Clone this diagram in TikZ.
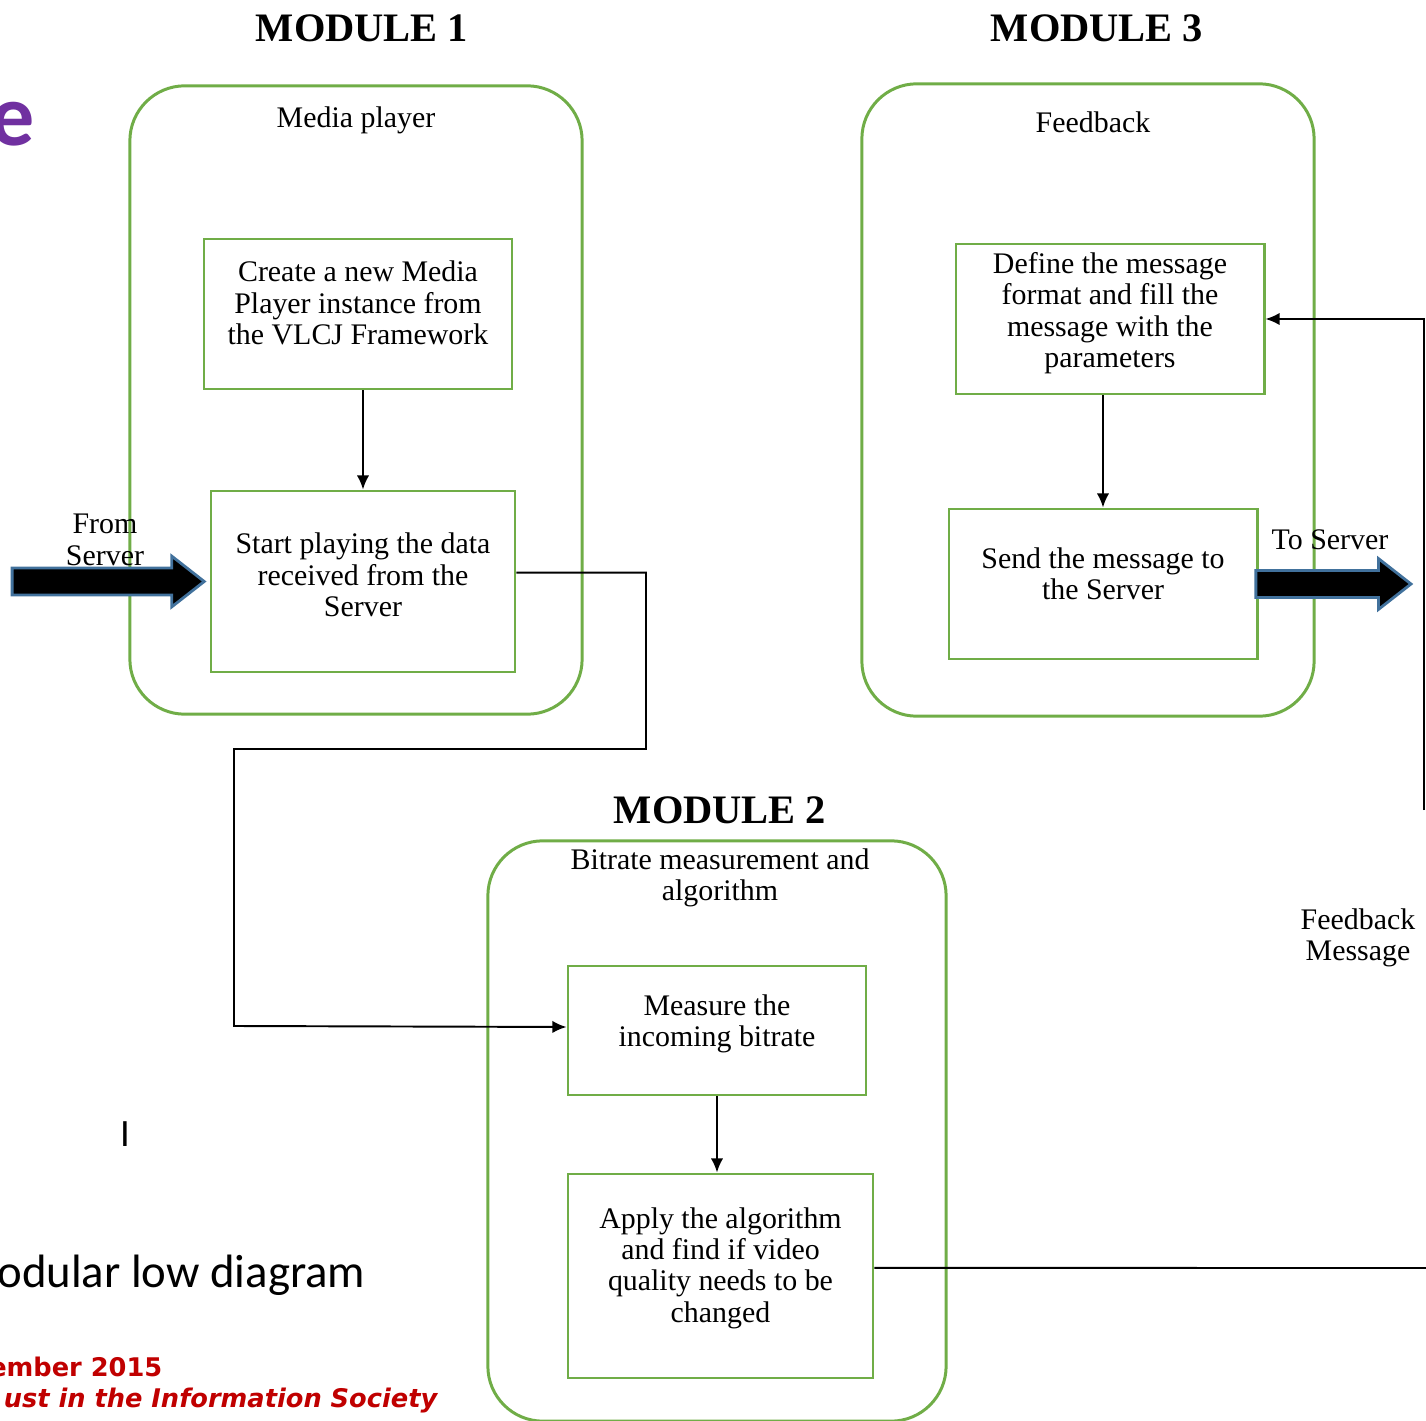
\documentclass[tikz,border=0pt]{standalone}
\usepackage{fontspec}
\setmainfont{Liberation Serif}
\newfontfamily\slidefont{Carlito}
\newfontfamily\footfont{DejaVu Sans}
\usepackage{xcolor}
\usepackage{tikz}
\usetikzlibrary{shapes.arrows, arrows.meta, positioning, calc}

\definecolor{boxgreen}{HTML}{70AD47}
\definecolor{arrowblue}{HTML}{41719C}
\definecolor{slidepurple}{HTML}{7030A0}
\definecolor{slidered}{HTML}{C00000}
\newcommand{\bodysize}{\fontsize{8.5}{8.9}\selectfont}

\begin{document}
\begin{tikzpicture}[
    x=0.01cm, y=-0.01cm,
    module/.style={rectangle, draw=boxgreen, line width=0.85pt, rounded corners=0.55cm,
                   inner sep=0pt},
    box/.style={rectangle, draw=boxgreen, line width=0.8pt, align=center, font=\bodysize,
                inner sep=2pt},
    title/.style={font=\bfseries\fontsize{11.5}{12}\selectfont},
    label/.style={align=center, font=\bodysize},
    arrow/.style={-{Latex[length=4pt,width=3.5pt]}, line width=0.55pt},
    line/.style={line width=0.55pt},
    bigarrow/.style={single arrow, draw=arrowblue, fill=black, line width=0.8pt,
                     inner xsep=0pt, inner ysep=0.12cm, single arrow head extend=0.12cm,
                     single arrow tip angle=76},
]
\useasboundingbox (0,0) rectangle (1426,1421);
\clip (0,0) rectangle (1426,1421);

% slide remains
\node[anchor=base east, font=\slidefont\bfseries\fontsize{25}{25}\selectfont,
      text=slidepurple, inner sep=0pt] (slidee) at (35,146) {e};
\node[anchor=base east, font=\slidefont\fontsize{13.3}{14}\selectfont, inner sep=0pt]
      (slidetitle) at (366,1287) {odular low diagram};
\node[anchor=base, font=\slidefont\fontsize{11}{12}\selectfont, inner sep=0pt]
      (cursor) at (125,1146) {I};
\node[anchor=base east, font=\footfont\bfseries\fontsize{7.3}{8}\selectfont,
      text=slidered, inner sep=0pt] (slidedate) at (163,1376) {ember 2015};
\node[anchor=base east, font=\footfont\bfseries\itshape\fontsize{7.3}{8}\selectfont,
      text=slidered, inner sep=0pt] (slideconf) at (438,1407) {ust in the Information Society};

% module 1
\node[title] (t1) at (362,28) {MODULE 1};
\node[module, minimum width=4.52cm, minimum height=6.28cm] (m1) at (356,400) {};
\node[label] (l1) at (356,120) {Media player};
\node[box, minimum width=3.08cm, minimum height=1.5cm] (A1) at (358,314)
     {Create a new Media\\Player instance from\\the VLCJ Framework\\[-2.6pt]};
\node[box, minimum width=3.04cm, minimum height=1.81cm] (A2) at (363,581.5)
     {Start playing the data\\received from the\\Server\\[-5pt]};

% module 3
\node[title] (t3) at (1097,28) {MODULE 3};
\node[module, minimum width=4.52cm, minimum height=6.32cm] (m3) at (1088,400) {};
\node[label] (l3) at (1093,122) {Feedback};
\node[box, minimum width=3.08cm, minimum height=1.5cm] (C1) at (1110,319)
     {Define the message\\format and fill the\\message with the\\parameters\\[-3.8pt]};
\node[box, minimum width=3.08cm, minimum height=1.5cm] (C2) at (1103,584)
     {Send the message to\\the Server\\[-3.2pt]};

% module 2
\node[title] (t2) at (720,810) {MODULE 2};
\node[module, minimum width=4.58cm, minimum height=5.8cm] (m2) at (717,1131) {};
\node[label] (l2) at (720,878) {Bitrate measurement and\\algorithm};
\node[box, minimum width=2.98cm, minimum height=1.29cm] (B1) at (717,1030.5)
     {Measure the\\incoming bitrate\\[-3.2pt]};
\node[box, minimum width=3.05cm, minimum height=2.04cm] (B2) at (720.5,1276)
     {Apply the algorithm\\and find if video\\quality needs to be\\changed\\[-2.6pt]};

% in and out
\node[bigarrow, minimum height=1.92cm, anchor=tip] (fromarr) at ([xshift=-0.03cm]A2.west) {};
\node[label] (lfrom) at (105,540) {From\\Server};
\node[bigarrow, minimum height=1.55cm, anchor=tail] (toarr) at ([xshift=-0.04cm]C2.east) {};
\node[label] (lto) at (1330,540) {To Server};
\node[label] (lfb) at (1358,938) {Feedback\\Message};

% connectors
\draw[arrow] (A1.south -| A2) -- (A2.north);
\draw[arrow] (C1.south -| C2) -- (C2.north);
\draw[arrow] (B1.south) -- (B2.north -| B1);
\draw[arrow] ([yshift=2.5pt]A2.east) -| (646,749) -| (234,1026) -- ([yshift=1pt]B1.west);
\coordinate (fbout) at (1440,1268);
\coordinate (fbtop) at (1424,810);
\draw[line] ([yshift=2.3pt]B2.east) -- (fbout);
\draw[arrow] (fbtop) |- (C1.east);
\end{tikzpicture}
\end{document}
